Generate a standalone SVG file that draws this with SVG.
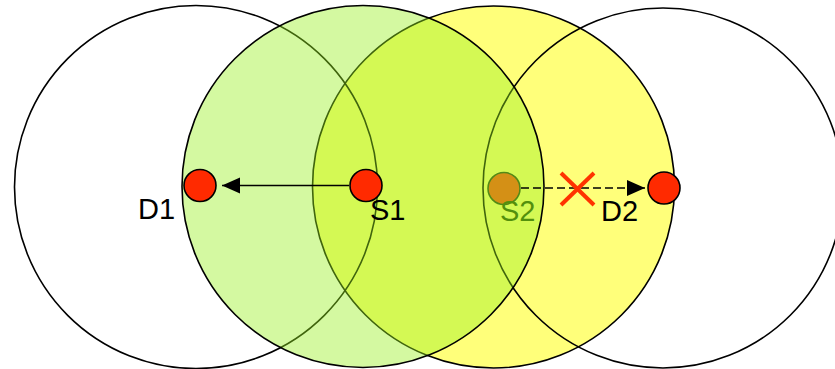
<svg xmlns="http://www.w3.org/2000/svg" width="835" height="369" viewBox="0 0 835 369">
  <style>
    .range { fill: none; stroke: #000; stroke-width: 1.6; }
    .node { fill: #FF2A00; stroke: #000; stroke-width: 1.6; }
    .lbl { font-family: "Liberation Sans", Arial, sans-serif; font-size: 29px; fill: #000; }
    .link { stroke: #000; stroke-width: 1.6; fill: none; }
  </style>
  <defs>
    <marker id="arr" markerWidth="20" markerHeight="20" refX="18" refY="8" orient="auto" markerUnits="userSpaceOnUse">
      <path d="M0,0 L18,8 L0,16 Z" fill="#000"/>
    </marker>
  </defs>
  <rect width="835" height="369" fill="#fff"/>
  <g id="range-S2">
    <circle cx="493.5" cy="187" r="181" fill="#FFFF7A" stroke="#000" stroke-width="1.6"/>
  </g>
  <g id="range-D1">
    <circle class="range" cx="196" cy="187" r="181.5"/>
  </g>
  <g id="range-D2">
    <circle class="range" cx="663" cy="188" r="180"/>
  </g>
  <g id="node-S2">
    <circle cx="504" cy="188.5" r="16" fill="#FF4A10" stroke="#204010" stroke-width="1.6"/>
    <text class="lbl" x="500" y="221" fill="#1a3a00" style="fill:#1f4a00">S2</text>
  </g>
  <g id="range-S1">
    <circle cx="363" cy="186.5" r="181" fill="rgb(153,240,30)" fill-opacity="0.42" stroke="#000" stroke-width="1.6"/>
  </g>
  <g id="connectors">
    <line class="link" x1="349" y1="185.5" x2="222" y2="185.5" marker-end="url(#arr)"/>
    <line class="link" x1="521" y1="188" x2="645" y2="188" stroke-dasharray="8,4" marker-end="url(#arr)"/>
    <g id="blocked" stroke="#FF3300" stroke-width="4">
      <line x1="561" y1="173" x2="594" y2="205"/>
      <line x1="594" y1="173" x2="561" y2="205"/>
    </g>
  </g>
  <g id="node-D1">
    <circle class="node" cx="200" cy="185.5" r="16"/>
    <text class="lbl" x="138" y="219">D1</text>
  </g>
  <g id="node-S1">
    <circle class="node" cx="366" cy="185.5" r="16"/>
    <text class="lbl" x="370" y="220">S1</text>
  </g>
  <g id="node-D2">
    <circle class="node" cx="664" cy="188" r="16"/>
    <text class="lbl" x="601" y="221">D2</text>
  </g>
</svg>
